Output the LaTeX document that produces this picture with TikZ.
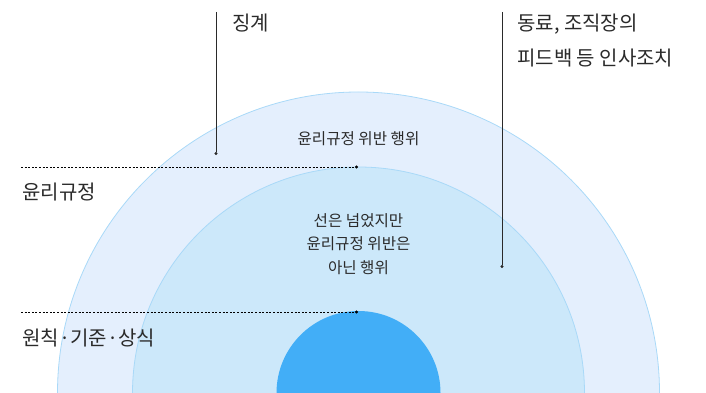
\documentclass[tikz,border=0pt]{standalone}
\usepackage{fontspec}
\setmainfont{Noto Sans CJK KR}
\usepackage{tikz}
\usetikzlibrary{arrows.meta}

\definecolor{ringout}{HTML}{E4EFFD}
\definecolor{ringmid}{HTML}{CCE8FA}
\definecolor{ringin}{HTML}{42AEF7}
\definecolor{ringedge}{HTML}{A9D9F8}
\definecolor{inkgray}{HTML}{2A2A2A}

\begin{document}
\begin{tikzpicture}[x=1pt,y=1pt,
    biglbl/.style={font=\fontsize{20}{35}\selectfont,text=inkgray,inner sep=0pt,anchor=west,align=left},
    smalllbl/.style={font=\fontsize{15.6}{23.2}\selectfont,text=inkgray,inner sep=0pt,align=center},
    leader/.style={draw=inkgray,line width=0.8pt,-{Circle[length=3pt]}},
    guide/.style={draw=black,line width=0.9pt,dash pattern=on 2pt off 1.6pt,-{Circle[length=3pt]}}]
    \useasboundingbox (0,0) rectangle (706,393);
    \begin{scope}
      \clip (0,0) rectangle (706,393);
      \foreach \r/\col in {301/ringout, 226/ringmid}{
        \draw[fill=\col,draw=ringedge,line width=0.8pt] (358.5,0) circle (\r);
      }
      \fill[ringin] (358.5,0) circle (82);
    \end{scope}
    \foreach \nm/\yy in {rule/226, base/81}{
      \coordinate (\nm-l) at (21,\yy);
      \coordinate (\nm-r) at (358,\yy);
      \draw[guide] (\nm-l) -- (\nm-r);
    }
    \foreach \nm/\xx/\yy in {penalty/216/238, peer/502/125}{
      \coordinate (\nm-top) at (\xx,381);
      \coordinate (\nm-end) at (\xx,\yy);
      \draw[leader] (\nm-top) -- (\nm-end);
    }
    \node[biglbl] (penalty) at (232,370) {징계};
    \node[biglbl] (peer) at (517,352.5) {동료, 조직장의\\피드백 등 인사조치};
    \node[biglbl] (rulelbl) at (22,200.5) {윤리규정};
    \node[biglbl] (baselbl) at (22,55.5) {원칙·기준·상식};
    \node[smalllbl] (outertxt) at (358.5,254.7) {윤리규정 위반 행위};
    \node[smalllbl] (midtxt) at (358.5,149) {선은 넘었지만\\윤리규정 위반은\\아닌 행위};
  \end{tikzpicture}
\end{document}
